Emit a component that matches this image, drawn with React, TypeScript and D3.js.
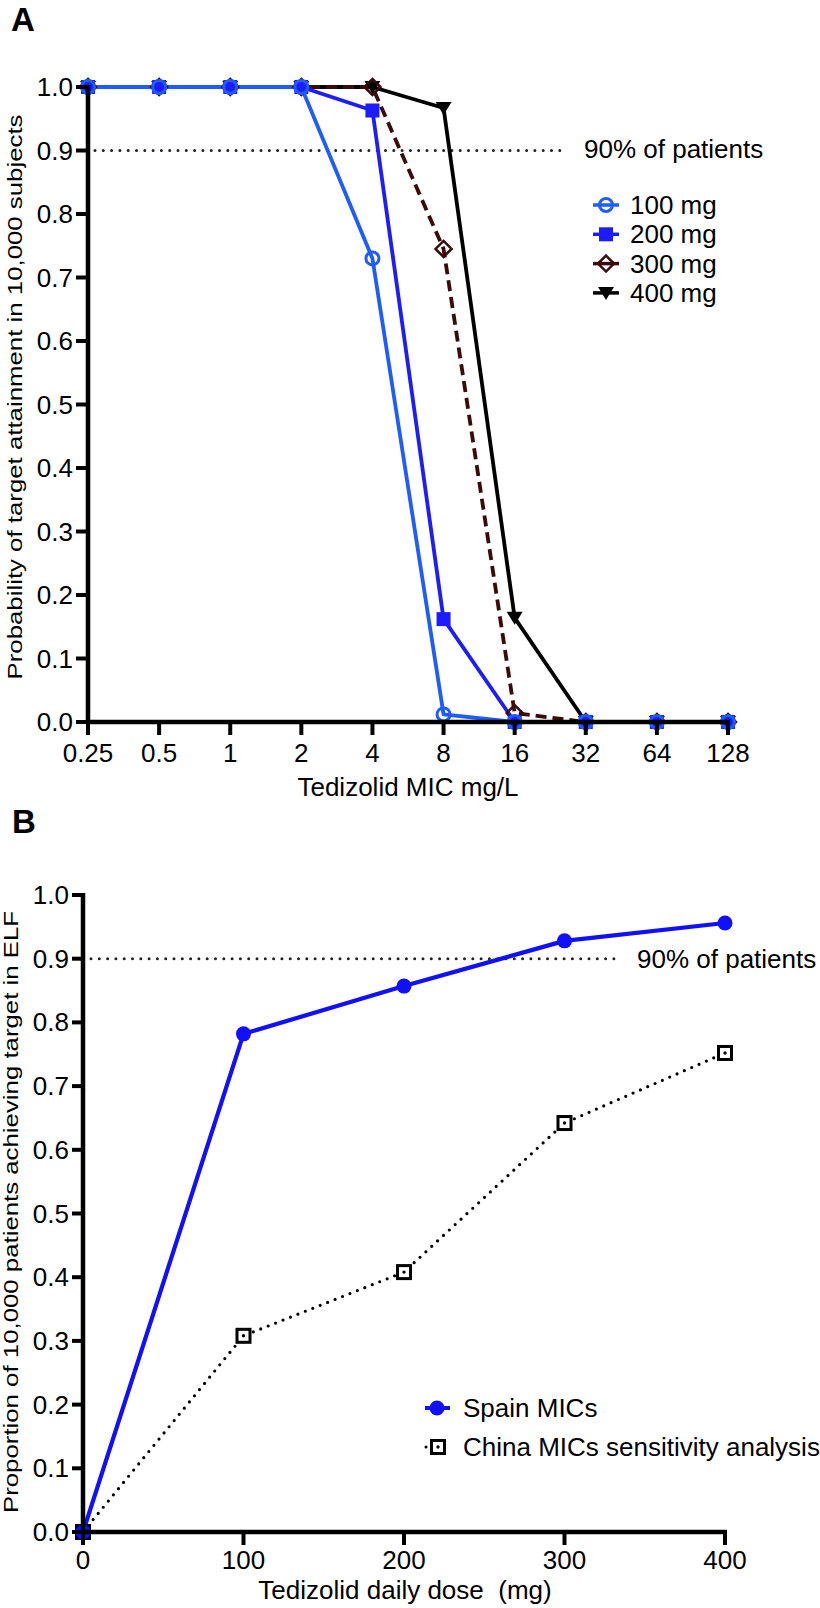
import React from 'react';
import { scaleLog, scaleLinear, line } from 'd3';

// Panel A: probability of target attainment by MIC
const micValues = [0.25, 0.5, 1, 2, 4, 8, 16, 32, 64, 128];
const micLabels = ['0.25', '0.5', '1', '2', '4', '8', '16', '32', '64', '128'];
const pta100 = [1, 1, 1, 1, 0.73, 0.012, 0, 0, 0, 0];
const pta200 = [1, 1, 1, 1, 0.963, 0.162, 0, 0, 0, 0];
const pta300 = [1, 1, 1, 1, 1, 0.745, 0.014, 0, 0, 0];
const pta400 = [1, 1, 1, 1, 1, 0.967, 0.164, 0, 0, 0];
const doseNames = ['100 mg', '200 mg', '300 mg', '400 mg'];

// Panel B: proportion achieving target in ELF by daily dose
const doses = [0, 100, 200, 300, 400];
const spainMICs = [0, 0.782, 0.857, 0.928, 0.956];
const chinaMICs = [0, 0.308, 0.408, 0.642, 0.752];
const seriesNamesB = ['Spain MICs', 'China MICs sensitivity analysis'];

const yTicks = [0, 0.1, 0.2, 0.3, 0.4, 0.5, 0.6, 0.7, 0.8, 0.9, 1.0];
const targetLevel = 0.9;

const FONT = '"Liberation Sans", Arial, Helvetica, sans-serif';
const C100 = '#1f5cff';
const C200 = '#1c1cff';
const C300 = '#3b0a0a';
const C400 = '#000';
const CSPAIN = '#1010ff';

// hollow symbols let whatever is underneath show through
const Circle = ({ x, y, color }) => (
  <circle cx={x} cy={y} r={6.5} fill="none" stroke={color} strokeWidth={3} />
);
const Square = ({ x, y, color }) => (
  <rect x={x - 7} y={y - 7} width={14} height={14} fill={color} />
);
const Diamond = ({ x, y, color }) => (
  <path d={`M${x},${y - 8}L${x + 8},${y}L${x},${y + 8}L${x - 8},${y}Z`} fill="none" stroke={color} strokeWidth={2.5} />
);
const TriDown = ({ x, y, color }) => (
  <path d={`M${x - 8},${y - 6}L${x + 8},${y - 6}L${x},${y + 7}Z`} fill={color} />
);
const Dot = ({ x, y, color }) => <circle cx={x} cy={y} r={7.5} fill={color} />;
const BoxDot = ({ x, y }) => (
  <g>
    <rect x={x - 6.5} y={y - 6.5} width={13} height={13} fill="#fff" stroke="#000" strokeWidth={3} />
    <circle cx={x} cy={y} r={1.7} fill="#000" />
  </g>
);

const App = () => {
  // panel A geometry
  const xA = scaleLog().base(2).domain([0.25, 128]).range([88, 728]);
  const yA = scaleLinear().domain([0, 1]).range([722, 87]);
  // panel B geometry
  const xB = scaleLinear().domain([0, 400]).range([83, 725]);
  const yB = scaleLinear().domain([0, 1]).range([1532, 895]);

  const lineA = (vals: number[]) =>
    line<number>().x((_, i) => xA(micValues[i])).y(d => yA(d))(vals) as string;
  const lineB = (vals: number[]) =>
    line<number>().x((_, i) => xB(doses[i])).y(d => yB(d))(vals) as string;

  const seriesA = [
    { vals: pta400, color: C400, M: TriDown, dash: undefined },
    { vals: pta300, color: C300, M: Diamond, dash: '11 6' },
    { vals: pta200, color: C200, M: Square, dash: undefined },
    { vals: pta100, color: C100, M: Circle, dash: undefined },
  ];
  const legendA = [
    { name: doseNames[0], color: C100, M: Circle },
    { name: doseNames[1], color: C200, M: Square },
    { name: doseNames[2], color: C300, M: Diamond },
    { name: doseNames[3], color: C400, M: TriDown },
  ];

  return (
    <svg width={820} height={1608} style={{ position: 'absolute', left: 0, top: 0, fontFamily: FONT }}>
      <rect width={820} height={1608} fill="#fff" />

      {/* ---------- Panel A ---------- */}
      <text x={11} y={31} fontSize={33} fontWeight="bold">A</text>

      <line x1={xA(0.25) + 7} x2={565} y1={yA(targetLevel)} y2={yA(targetLevel)}
        stroke="#222" strokeWidth={3} strokeDasharray="0 8.3" strokeLinecap="round" />
      <text x={584} y={158} fontSize={26}>90% of patients</text>

      {seriesA.map((s, k) => (
        <path key={k} d={lineA(s.vals)} fill="none" stroke={s.color} strokeWidth={3.8}
          strokeDasharray={s.dash} strokeLinejoin="round" />
      ))}
      {seriesA.map((s, k) => (
        <g key={k}>
          {s.vals.map((v, i) => <s.M key={i} x={xA(micValues[i])} y={yA(v)} color={s.color} />)}
        </g>
      ))}

      {/* axes A */}
      <line x1={88} x2={88} y1={85} y2={724} stroke="#000" strokeWidth={4.5} />
      <line x1={86} x2={730} y1={722} y2={722} stroke="#000" strokeWidth={4.5} />
      {yTicks.map(t => (
        <g key={t}>
          <line x1={76} x2={88} y1={yA(t)} y2={yA(t)} stroke="#000" strokeWidth={4} />
          <text x={73} y={yA(t) + 9} fontSize={26} textAnchor="end">{t.toFixed(1)}</text>
        </g>
      ))}
      {micValues.map((m, i) => (
        <g key={m}>
          <line x1={xA(m)} x2={xA(m)} y1={722} y2={735} stroke="#000" strokeWidth={4} />
          <text x={xA(m)} y={762} fontSize={26} textAnchor="middle">{micLabels[i]}</text>
        </g>
      ))}
      <text x={408} y={796} fontSize={26} textAnchor="middle">Tedizolid MIC mg/L</text>
      <text transform="translate(22,397) rotate(-90)" fontSize={20} textAnchor="middle"
        textLength={565} lengthAdjust="spacingAndGlyphs">
        Probability of target attainment in 10,000 subjects
      </text>

      {legendA.map((l, i) => {
        const cy = 205 + i * 29.3;
        return (
          <g key={l.name}>
            <l.M x={606} y={cy} color={l.color} />
            <line x1={593} x2={619} y1={cy} y2={cy} stroke={l.color} strokeWidth={3.5} />
            <text x={630} y={cy + 9} fontSize={26}>{l.name}</text>
          </g>
        );
      })}

      {/* ---------- Panel B ---------- */}
      <text x={12} y={833} fontSize={33} fontWeight="bold">B</text>

      <line x1={xB(0) + 8} x2={618} y1={yB(targetLevel)} y2={yB(targetLevel)}
        stroke="#222" strokeWidth={3} strokeDasharray="0 8.3" strokeLinecap="round" />
      <text x={637} y={968} fontSize={26}>90% of patients</text>

      <path d={lineB(chinaMICs)} fill="none" stroke="#000" strokeWidth={3.2}
        strokeDasharray="0 8" strokeLinecap="round" />
      <path d={lineB(spainMICs)} fill="none" stroke={CSPAIN} strokeWidth={4.2} strokeLinejoin="round" />
      {chinaMICs.map((v, i) => <BoxDot key={i} x={xB(doses[i])} y={yB(v)} />)}
      {spainMICs.map((v, i) => <Dot key={i} x={xB(doses[i])} y={yB(v)} color={CSPAIN} />)}

      {/* axes B */}
      <line x1={83} x2={83} y1={893} y2={1534} stroke="#000" strokeWidth={4.5} />
      <line x1={81} x2={727} y1={1532} y2={1532} stroke="#000" strokeWidth={4.5} />
      {yTicks.map(t => (
        <g key={t}>
          <line x1={72} x2={83} y1={yB(t)} y2={yB(t)} stroke="#000" strokeWidth={4} />
          <text x={69} y={yB(t) + 9} fontSize={26} textAnchor="end">{t.toFixed(1)}</text>
        </g>
      ))}
      {doses.map(d => (
        <g key={d}>
          <line x1={xB(d)} x2={xB(d)} y1={1532} y2={1545} stroke="#000" strokeWidth={4} />
          <text x={xB(d)} y={1569} fontSize={26} textAnchor="middle">{d}</text>
        </g>
      ))}
      <text x={405} y={1599} fontSize={26} textAnchor="middle" style={{ whiteSpace: 'pre' }}>
        {'Tedizolid daily dose  (mg)'}
      </text>
      <text transform="translate(18,1212) rotate(-90)" fontSize={20} textAnchor="middle"
        textLength={602} lengthAdjust="spacingAndGlyphs">
        Proportion of 10,000 patients achieving target in ELF
      </text>

      {/* legend B */}
      <line x1={425} x2={450} y1={1408} y2={1408} stroke={CSPAIN} strokeWidth={4} />
      <Dot x={437} y={1408} color={CSPAIN} />
      <text x={463} y={1417} fontSize={26}>{seriesNamesB[0]}</text>
      <line x1={426} x2={450} y1={1447} y2={1447} stroke="#000" strokeWidth={3}
        strokeDasharray="0 8" strokeLinecap="round" />
      <BoxDot x={438} y={1447} />
      <text x={463} y={1456} fontSize={26}>{seriesNamesB[1]}</text>
    </svg>
  );
};

export default App;
